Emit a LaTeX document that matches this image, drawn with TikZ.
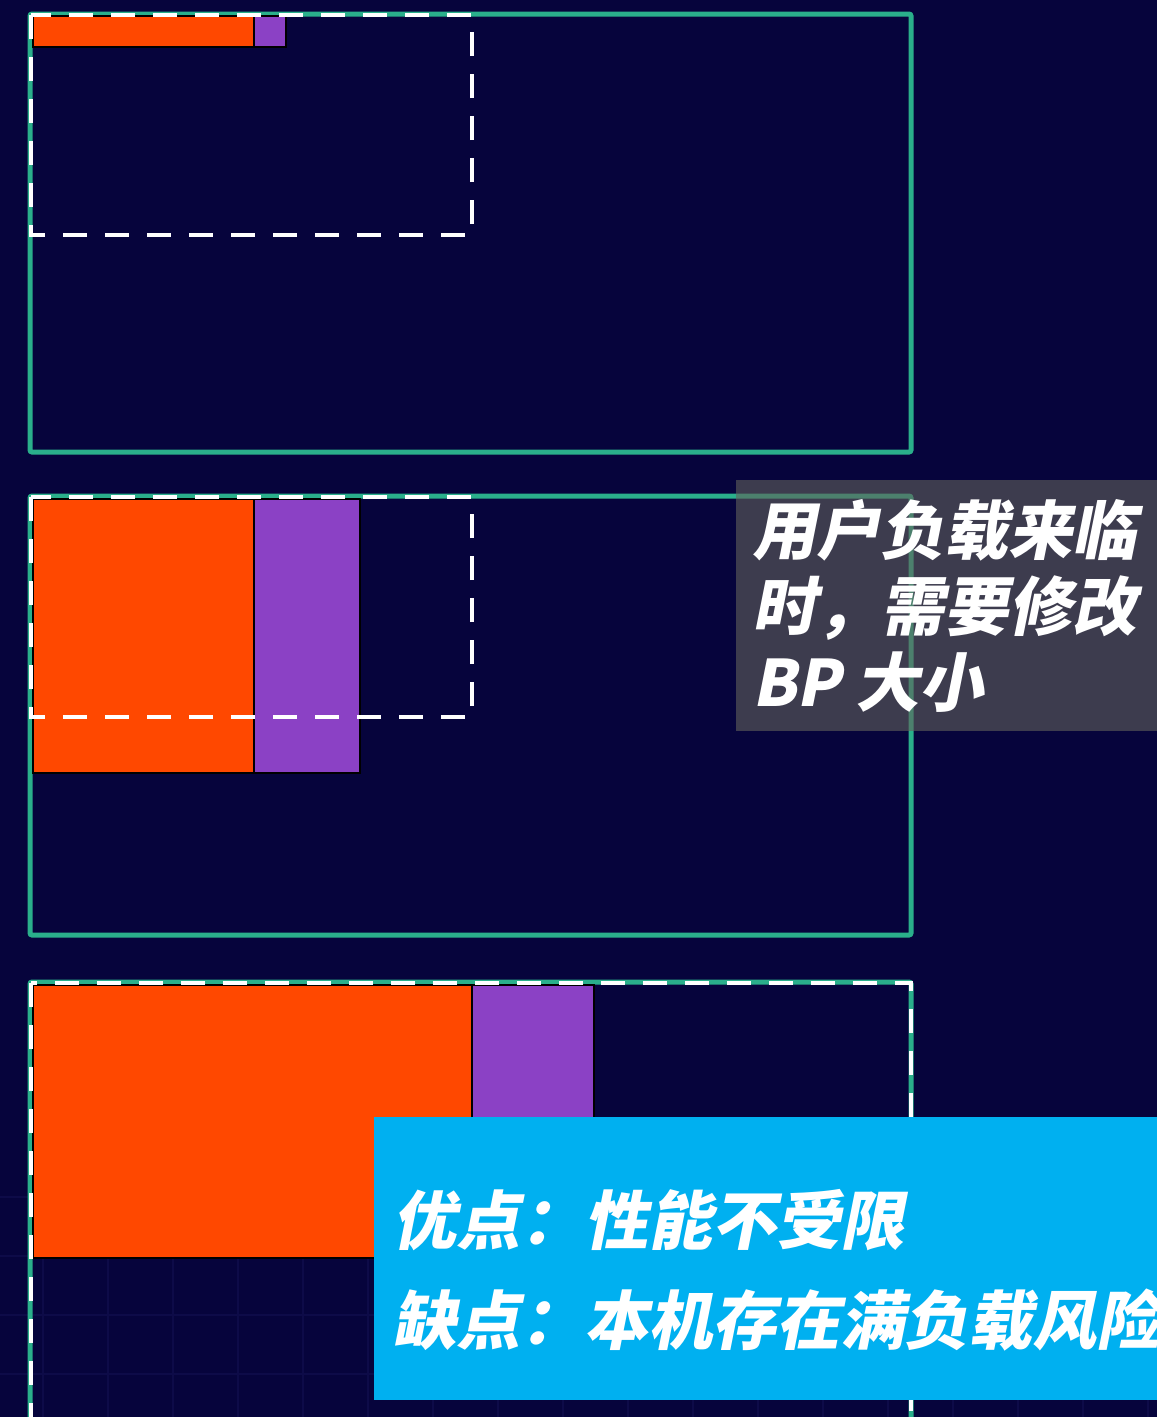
\documentclass[tikz,border=0pt]{standalone}
\usepackage{fontspec}
\newfontfamily\cjkfont{Noto Sans CJK SC}[FakeSlant=0.2]
\definecolor{bgc}{HTML}{06043C}
\definecolor{gridc}{HTML}{0D0B48}
\definecolor{greenc}{HTML}{2AAF8B}
\definecolor{orangec}{HTML}{FF4800}
\definecolor{purplec}{HTML}{8B41C5}
\definecolor{bluec}{HTML}{00B0F0}
\definecolor{greyc}{HTML}{63625A}
\begin{document}
\begin{tikzpicture}[x=1pt,y=-1pt,
  greenbox/.style={draw=greenc, line width=5pt, rounded corners=2pt},
  whitedash/.style={draw=white, line width=4.5pt, dash pattern=on 24pt off 18pt},
  orangebar/.style={fill=orangec, draw=black, line width=2pt},
  purplebar/.style={fill=purplec, draw=black, line width=2pt},
  greybox/.style={fill=greyc, fill opacity=0.6, inner sep=0pt, outer sep=0pt, minimum width=421pt, minimum height=251pt, anchor=north west},
  bluebox/.style={fill=bluec, inner sep=0pt, outer sep=0pt, minimum width=783pt, minimum height=283pt, anchor=north west},
  label/.style={text=white, inner sep=0pt, anchor=base west, font=\cjkfont\bfseries\fontsize{64}{76}\selectfont},
  gridline/.style={draw=gridc, line width=1.5pt}]
\useasboundingbox (0,0) rectangle (1157,1417);
\fill[bgc] (0,0) rectangle (1157,1417);
% faint grid
\foreach \x in {43,108,...,1157} \draw[gridline] (\x,1170) -- (\x,1417);
\foreach \y in {1197,1256,...,1417} \draw[gridline] (0,\y) -- (1157,\y);
% panel 1
\draw[greenbox] (30,14) rectangle (911,452);
\filldraw[orangebar] (33,16) rectangle (254,47);
\filldraw[purplebar] (254,16) rectangle (286,47);
\draw[whitedash] (31,15) rectangle (472,235);
% panel 2
\draw[greenbox] (30,496) rectangle (911,935);
\filldraw[orangebar] (33,499) rectangle (254,773);
\filldraw[purplebar] (254,499) rectangle (360,773);
\draw[whitedash] (31,497) rectangle (472,717);
% panel 3
\draw[greenbox] (30,982) rectangle (911,1450);
\filldraw[orangebar] (33,985) rectangle (472,1258);
\filldraw[purplebar] (472,985) rectangle (594,1258);
\draw[whitedash] (31,983) rectangle (911,1450);
% grey note
\node[greybox] (note) at (736,480) {};
\node[label] (n1) at (752,554) {用户负载来临};
\node[label] (n2) at (752,630) {时，需要修改};
\node[label] (n3) at (752,706) {BP 大小};
% blue box
\node[bluebox] (pros) at (374,1117) {};
\node[label] (p1) at (392,1244) {优点：性能不受限};
\node[label] (p2) at (392,1344) {缺点：本机存在满负载风险};
\end{tikzpicture}
\end{document}
